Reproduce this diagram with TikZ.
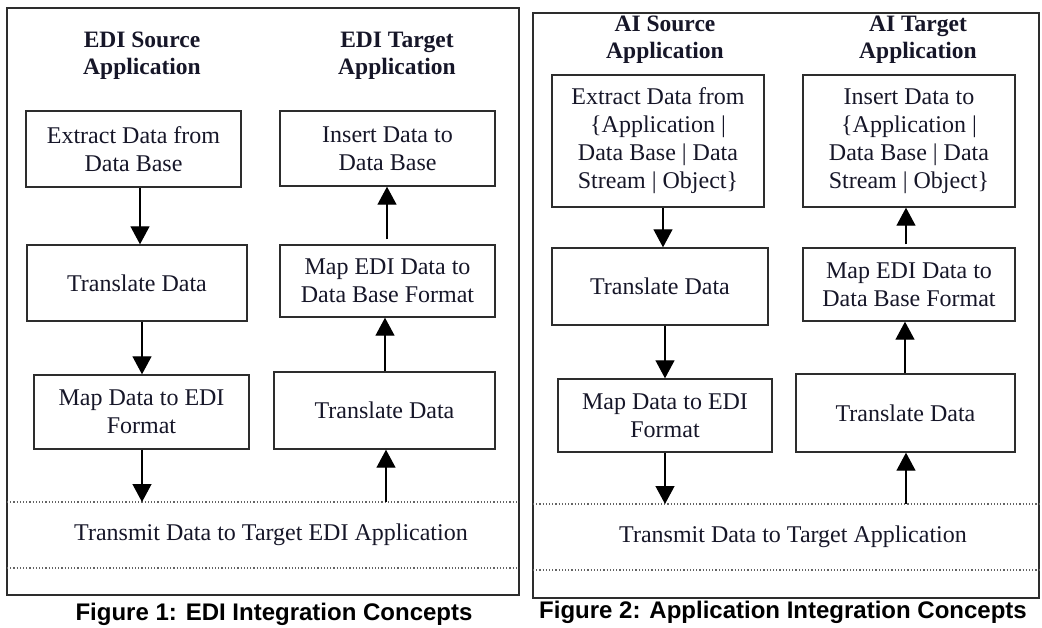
\documentclass[tikz,border=0pt]{standalone}
\usepackage{fontspec}
\setmainfont{Liberation Serif}
\newfontfamily\capfont{Liberation Sans}
\usetikzlibrary{arrows.meta,calc}
\definecolor{txt}{RGB}{22,22,40}
\definecolor{frm}{RGB}{45,45,45}
\definecolor{dotc}{RGB}{100,100,100}
\tikzset{
  frame/.style={draw=frm,line width=1.5pt},
  box/.style={draw=frm,line width=1.4pt,rectangle,align=center,inner sep=0pt,text=txt,
     font=\fontsize{24}{28}\selectfont},
  ttl/.style={align=center,inner sep=0pt,text=txt,font=\fontsize{23.5}{27}\selectfont\bfseries},
  band/.style={inner sep=0pt,text=txt,font=\fontsize{24}{28}\selectfont},
  figcap/.style={inner sep=0pt,text=black,font=\fontsize{24}{28}\selectfont\capfont\bfseries},
  arr/.style={draw=black,line width=1.3pt,-{Triangle[width=19pt,length=18pt]}},
  dotline/.style={draw=dotc,line width=1.2pt,dotted},
}
\begin{document}
\begin{tikzpicture}[x=1pt,y=-1pt]
\useasboundingbox (0,0) rectangle (1042,628);
% ===== Figure 1 =====
\draw[frame] (7,8) rectangle (519,595);
\node[ttl] (lst) at (142,56) {EDI Source\\Application};
\node[ttl] (ltt) at (397,56) {EDI Target\\Application};
\node[box,minimum width=215pt,minimum height=76pt] (ls1) at (133.5,149) {Extract Data from\\Data Base};
\node[box,minimum width=220pt,minimum height=76pt] (ls2) at (137,283) {Translate Data};
\node[box,minimum width=215pt,minimum height=74pt] (ls3) at (141.5,412) {Map Data to EDI\\Format};
\node[box,minimum width=215pt,minimum height=75pt] (lt1) at (387.5,148.5) {Insert Data to\\Data Base};
\node[box,minimum width=215pt,minimum height=72pt] (lt2) at (387.5,281) {Map EDI Data to\\Data Base Format};
\node[box,minimum width=221pt,minimum height=77pt] (lt3) at (384.5,410.5) {Translate Data};
\coordinate (ld1a) at (7,502);
\coordinate (ld1b) at (519,502);
\coordinate (ld2a) at (7,568);
\coordinate (ld2b) at (519,568);
\draw[dotline] (ld1a) -- (ld1b);
\draw[dotline] (ld2a) -- (ld2b);
\node[band] (ltx) at (271,535) {Transmit Data to Target EDI Application};
\coordinate (lx1) at (140,0);
\coordinate (lx2) at (142,0);
\coordinate (lx3) at (387,0);
\coordinate (lx4) at (385,0);
\coordinate (lx5) at (386,0);
\draw[arr] (ls1.south -| lx1) -- (ls2.north -| lx1);
\draw[arr] (ls2.south -| lx2) -- (ls3.north -| lx2);
\draw[arr] (ls3.south -| lx2) -- (ld1a -| lx2);
\draw[arr,shorten <=5pt] (lt2.north -| lx3) -- (lt1.south -| lx3);
\draw[arr] (lt3.north -| lx4) -- (lt2.south -| lx4);
\draw[arr] (ld1a -| lx5) -- (lt3.south -| lx5);
\node[figcap] (lcap) at (274,614) {Figure 1: EDI Integration Concepts};
% ===== Figure 2 =====
\draw[frame] (533,13) rectangle (1039,598);
\node[ttl] (rst) at (665,40) {AI Source\\Application};
\node[ttl] (rtt) at (918,40) {AI Target\\Application};
\node[box,minimum width=212pt,minimum height=132pt] (rs1) at (658,141) {Extract Data from\\\{Application |\\Data Base | Data\\Stream | Object\}};
\node[box,minimum width=216pt,minimum height=77pt] (rs2) at (660,286.5) {Translate Data};
\node[box,minimum width=214pt,minimum height=73pt] (rs3) at (665,415.5) {Map Data to EDI\\Format};
\node[box,minimum width=212pt,minimum height=132pt] (rt1) at (909,141) {Insert Data to\\\{Application |\\Data Base | Data\\Stream | Object\}};
\node[box,minimum width=212pt,minimum height=73pt] (rt2) at (909,284.5) {Map EDI Data to\\Data Base Format};
\node[box,minimum width=219pt,minimum height=78pt] (rt3) at (905.5,413) {Translate Data};
\coordinate (rd1a) at (533,504);
\coordinate (rd1b) at (1039,504);
\coordinate (rd2a) at (533,570);
\coordinate (rd2b) at (1039,570);
\draw[dotline] (rd1a) -- (rd1b);
\draw[dotline] (rd2a) -- (rd2b);
\node[band] (rtx) at (793,537) {Transmit Data to Target Application};
\coordinate (rx1) at (663,0);
\coordinate (rx2) at (665,0);
\coordinate (rx3) at (906,0);
\coordinate (rx4) at (905,0);
\draw[arr] (rs1.south -| rx1) -- (rs2.north -| rx1);
\draw[arr] (rs2.south -| rx2) -- (rs3.north -| rx2);
\draw[arr] (rs3.south -| rx2) -- (rd1a -| rx2);
\draw[arr,shorten <=3pt] (rt2.north -| rx3) -- (rt1.south -| rx3);
\draw[arr] (rt3.north -| rx4) -- (rt2.south -| rx4);
\draw[arr] (rd1a -| rx3) -- (rt3.south -| rx3);
\node[figcap] (rcap) at (783,612) {Figure 2: Application Integration Concepts};
\end{tikzpicture}
\end{document}
